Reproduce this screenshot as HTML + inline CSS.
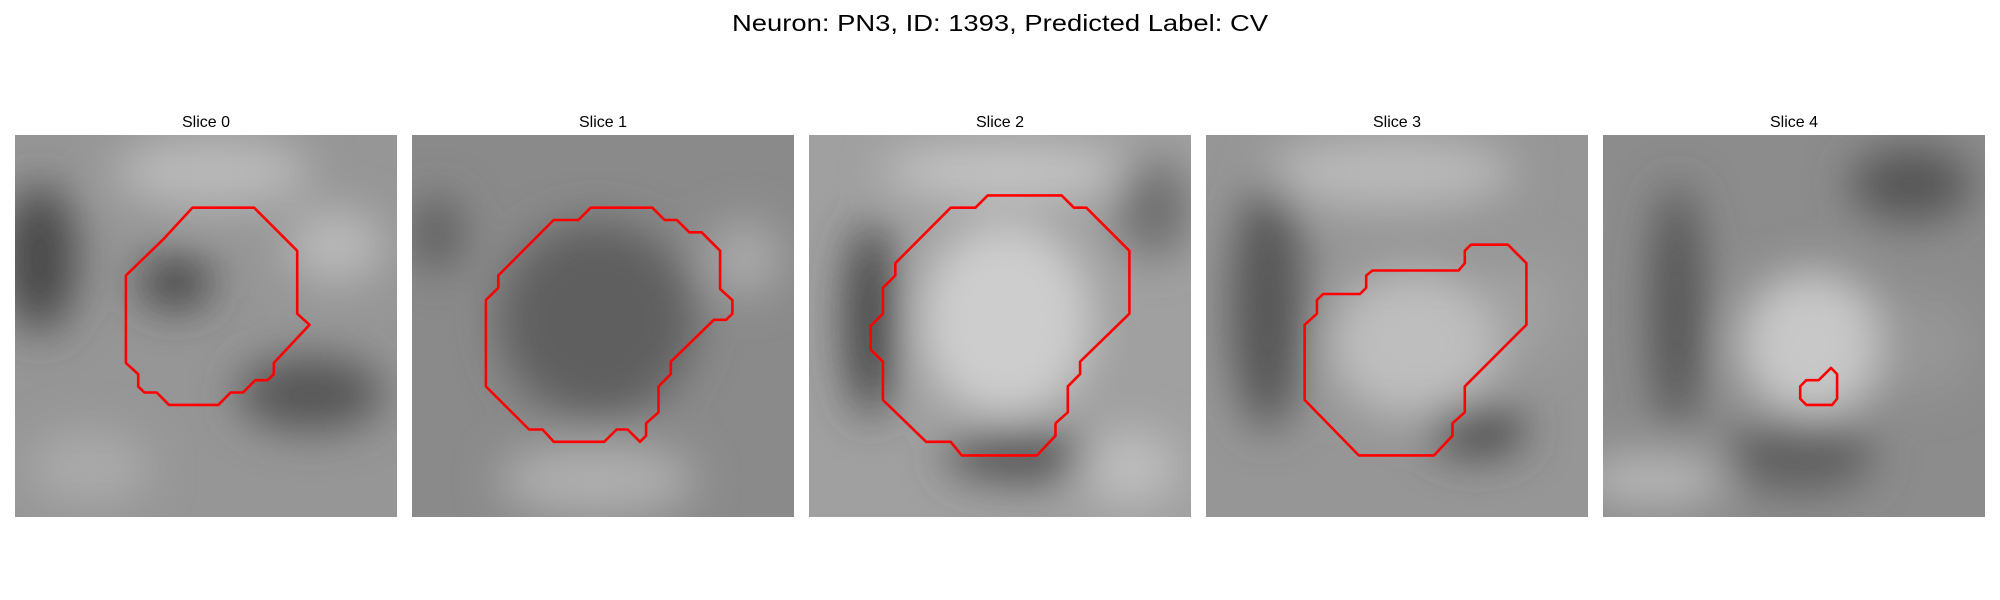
<!DOCTYPE html>
<html><head><meta charset="utf-8"><style>
html,body{margin:0;padding:0;background:#fff;}
svg{display:block;}
</style></head><body>
<svg id="fig" width="2000" height="600" viewBox="0 0 2000 600" xmlns="http://www.w3.org/2000/svg">
<defs>
<filter id="blur" x="-50%" y="-50%" width="200%" height="200%"><feGaussianBlur stdDeviation="22"/></filter>
</defs>
<rect width="2000" height="600" fill="#fff"/>
<text x="1000" y="31" text-anchor="middle" font-family="Liberation Sans, DejaVu Sans, sans-serif" font-size="23" textLength="536" lengthAdjust="spacingAndGlyphs" fill="#000">Neuron: PN3, ID: 1393, Predicted Label: CV</text>
<g id="panels"></g>
</svg>
<script>
// Slice titles
const sliceLabels = ["Slice 0","Slice 1","Slice 2","Slice 3","Slice 4"];
// Mean background intensity (0-255) per slice
const baseGray = [150, 138, 160, 150, 140];
// Broad intensity features per slice: [cx, cy, rx, ry, gray] in cell units (31x31 grid)
const blobs0 = [[2,10,3,6,70],[13,12,3,2,60],[24,21,6,3,85],[16,3,8,3,185],[26,9,4,3,185],[6,27,5,3,170]];
const blobs1 = [[15,15,8,8,95],[2,8,2,3,90],[27,10,3,3,170],[15,28,8,3,175]];
const blobs2 = [[16,15,7,8,205],[5,15,2,8,65],[17,26,6,2,80],[16,3,10,2,200],[28,6,3,4,110],[26,27,4,3,190]];
const blobs3 = [[17,17,7,6,190],[5,14,3,10,85],[22,24,4,2,70],[15,3,10,3,185],[26,14,3,4,160]];
const blobs4 = [[17,17,6,6,200],[6,14,2,10,80],[16,26,6,3,95],[25,4,5,3,85],[4,28,6,2,185],[26,17,4,4,150]];
const blobSets = [blobs0, blobs1, blobs2, blobs3, blobs4];
// Contour vertices (cell units) per slice
const contour0 = [[14.4,5.9],[19.4,5.9],[22.9,9.4],[22.9,14.5],[23.9,15.4],[21.0,18.5],[21.0,19.4],[20.5,19.9],[19.5,19.9],[18.5,20.9],[17.5,20.9],[16.5,21.9],[12.5,21.9],[11.5,20.9],[10.5,20.9],[10.0,20.4],[10.0,19.4],[9.0,18.5],[9.0,11.4],[12.0,8.5]];
const contour1 = [[14.5,5.9],[19.5,5.9],[20.5,6.9],[21.5,6.9],[22.5,7.9],[23.5,7.9],[25.0,9.4],[25.0,12.5],[26.0,13.4],[26.0,14.5],[25.5,15.0],[24.5,15.0],[21.0,18.4],[21.0,19.4],[20.0,20.4],[20.0,22.5],[19.0,23.4],[19.0,24.4],[18.5,24.9],[17.5,23.9],[16.6,23.9],[15.6,24.9],[11.5,24.9],[10.6,23.9],[9.5,23.9],[6.0,20.4],[6.0,13.4],[7.0,12.4],[7.0,11.4],[11.5,6.9],[13.5,6.9]];
const contour2 = [[14.5,4.9],[20.5,4.9],[21.5,5.9],[22.5,5.9],[26.0,9.4],[26.0,14.5],[22.0,18.4],[22.0,19.4],[21.0,20.4],[21.0,22.5],[20.0,23.4],[20.0,24.4],[18.5,26.0],[12.4,26.0],[11.5,24.9],[9.5,24.9],[6.0,21.5],[6.0,18.4],[5.0,17.4],[5.0,15.5],[6.0,14.5],[6.0,12.4],[7.0,11.4],[7.0,10.4],[11.5,5.9],[13.5,5.9]];
const contour3 = [[21.5,8.9],[24.5,8.9],[26.0,10.4],[26.0,15.4],[21.0,20.4],[21.0,22.5],[20.0,23.4],[20.0,24.4],[18.5,26.0],[12.4,26.0],[8.0,21.5],[8.0,15.4],[9.0,14.5],[9.0,13.4],[9.5,12.9],[12.5,12.9],[13.0,12.4],[13.0,11.4],[13.5,11.0],[20.5,11.0],[21.0,10.4],[21.0,9.4]];
const contour4 = [[18.5,18.9],[19.0,19.4],[19.0,21.4],[18.6,21.9],[16.5,21.9],[16.0,21.4],[16.0,20.4],[16.5,19.9],[17.5,19.9]];
const contours = [contour0, contour1, contour2, contour3, contour4];

const NS = "http://www.w3.org/2000/svg";
const PX0 = 15, PY0 = 135, PW = 382, PSTEP = 397, NCELL = 31;
const cell = PW / NCELL;
const g = document.getElementById('panels');
function gray(v){ v=Math.round(v); return `rgb(${v},${v},${v})`; }
function sx(i, c){ return PX0 + i*PSTEP + c*cell; }
function sy(c){ return PY0 + c*cell; }
for (let i=0;i<5;i++){
  const pg = document.createElementNS(NS,'g');
  
  
  g.appendChild(pg);
  const t = document.createElementNS(NS,'text');
  
  
  t.setAttribute('x', PX0 + i*PSTEP + PW/2);
  t.setAttribute('y', 127);
  t.setAttribute('text-anchor','middle');
  t.setAttribute('font-family','Liberation Sans, DejaVu Sans, sans-serif');
  t.setAttribute('font-size','16');
  t.textContent = sliceLabels[i];
  pg.appendChild(t);
  const cp = document.createElementNS(NS,'clipPath');
  cp.setAttribute('id','clip'+i);
  const cr = document.createElementNS(NS,'rect');
  cr.setAttribute('x', sx(i,0)); cr.setAttribute('y', sy(0));
  cr.setAttribute('width', PW); cr.setAttribute('height', PW);
  cp.appendChild(cr); pg.appendChild(cp);
  const img = document.createElementNS(NS,'g');
  
  
  img.setAttribute('clip-path','url(#clip'+i+')');
  pg.appendChild(img);
  const bg = document.createElementNS(NS,'rect');
  bg.setAttribute('x', sx(i,0)); bg.setAttribute('y', sy(0));
  bg.setAttribute('width', PW); bg.setAttribute('height', PW);
  bg.setAttribute('fill', gray(baseGray[i]));
  img.appendChild(bg);
  const bl = document.createElementNS(NS,'g');
  bl.setAttribute('filter','url(#blur)');
  img.appendChild(bl);
  blobSets[i].forEach((b)=>{
    const e = document.createElementNS(NS,'ellipse');
    
    
    e.setAttribute('cx', sx(i,b[0])); e.setAttribute('cy', sy(b[1]));
    e.setAttribute('rx', b[2]*cell); e.setAttribute('ry', b[3]*cell);
    e.setAttribute('fill', gray(b[4]));
    bl.appendChild(e);
  });
  const pts = contours[i].map(p => sx(i,p[0]).toFixed(1)+','+sy(p[1]).toFixed(1)).join(' ');
  const pl = document.createElementNS(NS,'polygon');
  
  
  pl.setAttribute('points', pts);
  pl.setAttribute('fill','none');
  pl.setAttribute('stroke','#ff0000');
  pl.setAttribute('stroke-width','2.6');
  pl.setAttribute('stroke-linejoin','round');
  pg.appendChild(pl);
}
</script>
</body></html>
